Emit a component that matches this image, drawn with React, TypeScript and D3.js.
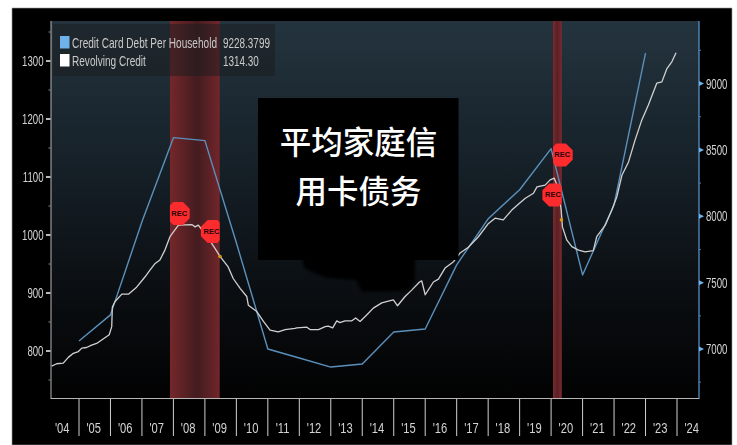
import React from "react";
import * as d3 from "d3";

// Credit card debt per household, year-end readings (right axis)
const debtYears = [2005, 2006, 2007, 2008, 2009, 2010, 2011, 2012, 2013, 2014, 2015, 2016, 2017, 2018, 2019, 2020, 2021, 2022, 2023];
const debtValues = [7060, 7257, 7958, 8592, 8570, 7800, 7000, 6932, 6864, 6887, 7128, 7151, 7634, 7981, 8200, 8509, 7558, 8087, 9228.38];

// Revolving credit (left axis)
const revolvingYears = [
  2004.13, 2004.29, 2004.5, 2004.66, 2004.82, 2004.98, 2005.09, 2005.24, 2005.4, 2005.56, 2005.72, 2005.96, 2006.04,
  2006.06, 2006.14, 2006.36, 2006.57, 2006.83, 2007.1, 2007.26, 2007.42, 2007.57, 2007.73, 2007.89, 2008.16, 2008.58,
  2008.69, 2008.79, 2008.95, 2009.11, 2009.32, 2009.48, 2009.74, 2009.9, 2010.12, 2010.33, 2010.38, 2010.65, 2010.86,
  2011.07, 2011.33, 2011.55, 2011.86, 2011.92, 2012.24, 2012.34, 2012.61, 2012.82, 2012.92, 2013.06, 2013.19, 2013.29,
  2013.45, 2013.67, 2013.79, 2013.93, 2014.14, 2014.35, 2014.62, 2014.83, 2014.99, 2015.12, 2015.36, 2015.57, 2015.82,
  2015.89, 2016.0, 2016.26, 2016.42, 2016.63, 2016.9, 2017.11, 2017.37, 2017.69, 2018.01, 2018.22, 2018.48, 2018.75,
  2019.17, 2019.44, 2019.55, 2019.81, 2019.97, 2020.1, 2020.23, 2020.32, 2020.36, 2020.5, 2020.66, 2020.87, 2021.08,
  2021.34, 2021.45, 2021.72, 2021.93, 2022.09, 2022.25, 2022.46, 2022.67, 2022.88, 2023.09, 2023.36, 2023.52, 2023.68,
  2023.84, 2023.97,
];
const revolvingValues = [
  774, 778, 779, 789, 796, 799, 805, 806, 810, 813, 819, 828, 842,
  876, 885, 898, 898, 910, 928, 940, 951, 957, 974, 997, 1017, 1018,
  1014, 1017, 1006, 994, 977, 963, 945, 925, 908, 894, 879, 868, 851,
  836, 833, 837, 839, 840, 841, 837, 837, 842, 843, 840, 852, 849,
  852, 852, 857, 851, 862, 874, 883, 886, 888, 878, 894, 905, 919,
  921, 897, 919, 924, 943, 954, 969, 979, 997, 1020, 1029, 1026, 1043,
  1063, 1072, 1083, 1086, 1095, 1098, 1080, 1043, 1014, 991, 980, 974, 971,
  973, 997, 1017, 1043, 1066, 1103, 1126, 1164, 1198, 1224, 1262, 1264, 1287,
  1299, 1314.3,
];

// Recession spans and their start/end flags
const recessionStarts = [2007.89, 2020.06];
const recessionEnds = [2009.47, 2020.34];
const recFlagYears = [2008.15, 2009.24, 2020.32, 2020.09];
const recFlagValues = [1037, 1006, 1138, 1069];
const recFlagClipEdge = ["start", "end", "start", "end"];

// Small markers sitting on the revolving credit line at each recession's end
const endMarkerYears = [2009.48, 2020.33];
const endMarkerValues = [963, 1026];

const leftMajor = [800, 900, 1000, 1100, 1200, 1300];
const leftMinor = [750, 850, 950, 1050, 1150, 1250, 1350];
const rightMajor = [7000, 7500, 8000, 8500, 9000];
const rightMinor = [6750, 7250, 7750, 8250, 8750, 9250];
const yearTicks = d3.range(2005, 2025);
const yearLabels = d3.range(2004, 2025);

const legendNames = ["Credit Card Debt Per Household", "Revolving Credit"];
const legendValues = ["9228.3799", "1314.30"];
const legendColors = ["#6fb2ea", "#ffffff"];
const titleLines = ["平均家庭信", "用卡债务"];

const WIDTH = 737;
const HEIGHT = 445;
const plot = { left: 51, right: 699, top: 21, bottom: 398 };

const x = d3.scaleLinear().domain([2005, 2024]).range([79, 677]);
const yLeft = d3.scaleLinear().domain([800, 1300]).range([351, 61]);
const yRight = d3.scaleLinear().domain([7000, 9000]).range([349, 83.5]);

const debtLine = d3
  .line<number>()
  .x((_, i) => x(debtYears[i]))
  .y((d) => yRight(d));
const revolvingLine = d3
  .line<number>()
  .x((_, i) => x(revolvingYears[i]))
  .y((d) => yLeft(d));

// Eight-sided flag outline around the origin
const flagShape = d3
  .lineRadial<number>()
  .angle((d) => d)
  .radius(12.5)
  .curve(d3.curveLinearClosed)(d3.range(8).map((i) => (Math.PI / 8) * (2 * i + 1))) as string;

const labelFont = "'Liberation Sans', sans-serif";
const axisText = "#d4d4d4";

// Condensed terminal-style label, narrowed horizontally by a fixed factor
function Label(props: { x: number; y: number; sx: number; anchor?: string; fill?: string; children: React.ReactNode }) {
  return (
    <text
      transform={`translate(${props.x},${props.y}) scale(${props.sx},1)`}
      textAnchor={props.anchor ?? "start"}
      fontSize={14}
      fontFamily={labelFont}
      fill={props.fill ?? axisText}
      filter="url(#textSoft)"
    >
      {props.children}
    </text>
  );
}

export default function App() {
  return (
    <svg
      width={WIDTH}
      height={HEIGHT}
      viewBox={`0 0 ${WIDTH} ${HEIGHT}`}
      style={{ position: "fixed", left: 0, top: 0, display: "block", background: "#fff" }}
    >
      <defs>
        <linearGradient id="plotBg" x1="0" y1="0" x2="0" y2="1">
          <stop offset="0" stopColor="#24343e" />
          <stop offset="0.35" stopColor="#17222a" />
          <stop offset="0.7" stopColor="#0b0f13" />
          <stop offset="1" stopColor="#020202" />
        </linearGradient>
        <linearGradient id="bandWide" x1="0" y1="0" x2="1" y2="0">
          <stop offset="0" stopColor="#74272a" />
          <stop offset="0.55" stopColor="#431c20" />
          <stop offset="1" stopColor="#72262a" />
        </linearGradient>
        <linearGradient id="bandNarrow" x1="0" y1="0" x2="1" y2="0">
          <stop offset="0" stopColor="#7a2a2e" />
          <stop offset="0.5" stopColor="#5a2024" />
          <stop offset="1" stopColor="#7a2a2e" />
        </linearGradient>
        <filter id="soft" x="-20%" y="-20%" width="140%" height="140%">
          <feGaussianBlur stdDeviation="1.6" />
        </filter>
        <filter id="lineSoft" x="-5%" y="-5%" width="110%" height="110%">
          <feGaussianBlur stdDeviation="0.35" />
        </filter>
        <filter id="textSoft" x="-10%" y="-10%" width="120%" height="120%">
          <feGaussianBlur stdDeviation="0.3" />
        </filter>
      </defs>

      <rect x={12} y={8} width={720} height={437} fill="#000" stroke="#9a9a9a" strokeWidth={0.6} />
      <rect x={plot.left} y={plot.top} width={plot.right - plot.left} height={plot.bottom - plot.top} fill="url(#plotBg)" />

      {recessionStarts.map((s, i) => (
        <rect
          key={i}
          x={x(s)}
          y={plot.top}
          width={x(recessionEnds[i]) - x(s)}
          height={plot.bottom - plot.top}
          fill={i === 0 ? "url(#bandWide)" : "url(#bandNarrow)"}
        />
      ))}

      <g fill="none" strokeLinejoin="round" filter="url(#lineSoft)">
        <path d={debtLine(debtValues) as string} stroke="#5a90bb" strokeWidth={1.4} />
        <path d={revolvingLine(revolvingValues) as string} stroke="#d0d0d0" strokeWidth={1.3} />
      </g>

      {recFlagYears.map((yr, i) => {
        const band = i < 2 ? 0 : 1;
        const atStart = recFlagClipEdge[i] === "start";
        return (
          <g key={i} clipPath={`url(#flagClip${i})`}>
            <clipPath id={`flagClip${i}`}>
              <rect
                x={atStart ? x(recessionStarts[band]) : x(yr) - 30}
                y={yLeft(recFlagValues[i]) - 30}
                width={atStart ? 60 : x(recessionEnds[band]) - x(yr) + 30}
                height={60}
              />
            </clipPath>
            <path d={flagShape} transform={`translate(${x(yr)},${yLeft(recFlagValues[i])})`} fill="#fb2b2e" />
            <text
              x={x(yr) + (atStart ? 1 : -1)}
              y={yLeft(recFlagValues[i]) + 2.5}
              textAnchor="middle"
              fontSize={7.5}
              fontWeight={700}
              fontFamily="'Liberation Sans', sans-serif"
              fill="#2a0406"
            >
              REC
            </text>
          </g>
        );
      })}

      {endMarkerYears.map((yr, i) => (
        <circle key={i} cx={x(yr)} cy={yLeft(endMarkerValues[i])} r={1.8} fill="#d8951c" />
      ))}

      {/* Axis frame */}
      <line x1={plot.left} x2={plot.left} y1={plot.top} y2={plot.bottom + 1} stroke="#b5b5b5" strokeWidth={1} />
      <line x1={plot.right} x2={plot.right} y1={plot.top} y2={plot.bottom + 1} stroke="#5d9ad0" strokeWidth={1.2} />
      <line x1={plot.left} x2={plot.right} y1={plot.bottom + 0.5} y2={plot.bottom + 0.5} stroke="#b5b5b5" strokeWidth={1.2} />

      {leftMajor.map((v) => (
        <g key={v}>
          <line x1={46} x2={50.5} y1={yLeft(v)} y2={yLeft(v)} stroke="#e8e8e8" strokeWidth={1.6} />
          <Label x={43.5} y={yLeft(v) + 5} sx={0.69} anchor="end">
            {v}
          </Label>
        </g>
      ))}
      {leftMinor.map((v) => (
        <line key={v} x1={48.5} x2={50.5} y1={yLeft(v)} y2={yLeft(v)} stroke="#8f8f8f" strokeWidth={1} />
      ))}

      {rightMajor.map((v) => (
        <g key={v}>
          <path d={`M${plot.right},${yRight(v) - 2.5}L${plot.right + 5},${yRight(v)}L${plot.right},${yRight(v) + 2.5}Z`} fill="#6fb2ea" />
          <Label x={706} y={yRight(v) + 5} sx={0.69}>
            {v}
          </Label>
        </g>
      ))}
      {rightMinor.map((v) => (
        <line key={v} x1={plot.right} x2={plot.right + 2} y1={yRight(v)} y2={yRight(v)} stroke="#4d7da8" strokeWidth={1} />
      ))}

      {yearTicks.map((yr) => (
        <line key={yr} x1={x(yr)} x2={x(yr)} y1={plot.bottom + 1} y2={436} stroke="#cfcfcf" strokeWidth={1} />
      ))}
      {yearLabels.map((yr) => (
        <Label key={yr} x={x(yr + 0.5) - 1} y={432.5} sx={0.8} anchor="middle">
          {`'${String(yr).slice(2)}`}
        </Label>
      ))}

      {/* Legend */}
      <rect x={53} y={24} width={222} height={52} fill="#191b1d" fillOpacity={0.5} />
      {legendNames.map((name, i) => (
        <g key={name}>
          <rect x={60} y={36 + i * 18} width={9.5} height={12.5} fill={legendColors[i]} />
          <Label x={72} y={48 + i * 18} sx={0.72} fill="#c9c9c9">
            {name}
          </Label>
          <Label x={223} y={48 + i * 18} sx={0.71} fill="#c9c9c9">
            {legendValues[i]}
          </Label>
        </g>
      ))}

      {/* Title plate, with a soft dark patch trailing below it */}
      <path
        d="M302,258L415,258L415,281L408,291L362,292L356,280L326,278L312,272L304,268Z"
        fill="#000"
        filter="url(#soft)"
      />
      <rect x={258} y={98} width={200.5} height={162} fill="#000" />
      {titleLines.map((line, i) => (
        <text
          key={line}
          x={358.5}
          y={154 + i * 49}
          textAnchor="middle"
          fontSize={31.5}
          fontWeight={500}
          fontFamily="'Noto Sans CJK SC', sans-serif"
          fill="#fff"
        >
          {line}
        </text>
      ))}
    </svg>
  );
}
